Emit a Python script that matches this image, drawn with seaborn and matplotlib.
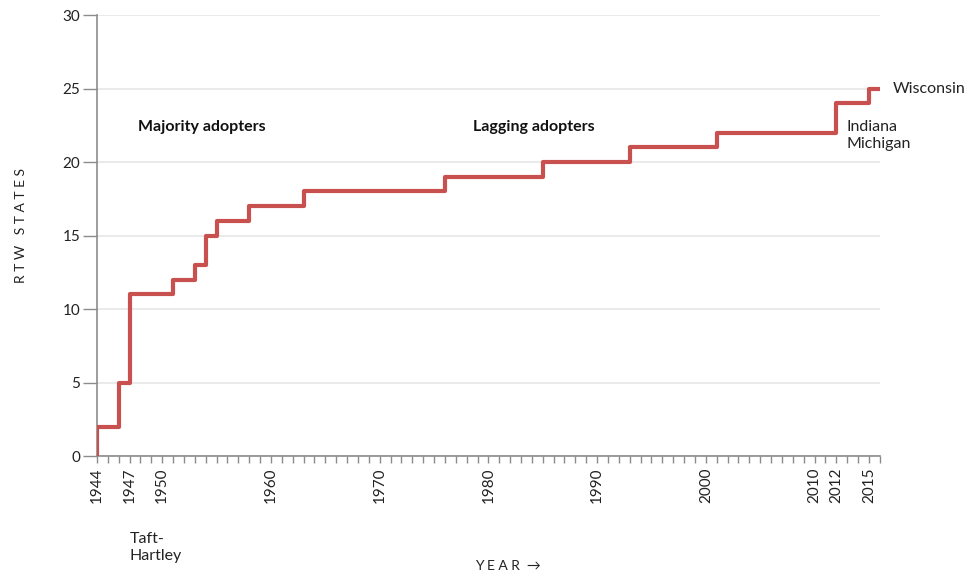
import numpy as np
import pandas as pd
import matplotlib
matplotlib.use("Agg")
import matplotlib.pyplot as plt
from matplotlib.ticker import MultipleLocator
import seaborn as sns

# Cumulative right-to-work states by year of adoption
years = [1944, 1944, 1946, 1947, 1951, 1953, 1954, 1955, 1958, 1963,
         1976, 1985, 1993, 2001, 2012, 2015, 2016]
rtw_states = [0, 2, 5, 11, 12, 13, 15, 16, 17, 18,
              19, 20, 21, 22, 24, 25, 25]
year_ticks = [1944, 1947, 1950, 1960, 1970, 1980, 1990, 2000, 2010, 2012, 2015]
y_ticks = [0, 5, 10, 15, 20, 25, 30]

line_color = "#c8504e"
axis_color = "#8c8c8c"
grid_color = "#e6e6e6"

sns.set_theme(style="white")
plt.rcParams["font.family"] = ["Lato", "DejaVu Sans"]

df = pd.DataFrame({"year": years, "states": rtw_states})

fig = plt.figure(figsize=(9.7, 5.76), dpi=100)
ax = fig.add_axes([0.1, 0.2083, 0.807, 0.7656])

sns.lineplot(data=df, x="year", y="states", ax=ax, sort=False, estimator=None,
             drawstyle="steps-post", color=line_color, linewidth=3, zorder=3)

ax.set_xlim(1944, 2016)
ax.set_ylim(0, 30)
ax.set_yticks(y_ticks)
ax.set_xticks(year_ticks)
ax.set_xticklabels([str(y) for y in year_ticks], rotation=90)
ax.xaxis.set_minor_locator(MultipleLocator(1))

ax.yaxis.grid(True, color=grid_color, linewidth=1.2)
ax.set_axisbelow(True)
for side in ["top", "right"]:
    ax.spines[side].set_visible(False)
for side in ["left", "bottom"]:
    ax.spines[side].set_color(axis_color)
    ax.spines[side].set_linewidth(1.2)

ax.tick_params(axis="y", which="major", length=10, width=1, color=axis_color,
               labelsize=11, labelcolor="#222222", pad=2, left=True)
ax.tick_params(axis="x", which="major", length=5, width=1, color=axis_color,
               labelsize=11, labelcolor="#222222", pad=3, bottom=True)
ax.tick_params(axis="x", which="minor", length=5, width=1, color=axis_color,
               bottom=True)

ax.set_xlabel("")
ax.set_ylabel("")
fig.text(0.022, 0.609, "R T W   S T A T E S", rotation=90, ha="center", va="center",
         fontsize=10, color="#222222")
fig.text(0.524, 0.017, "Y E A R  →", ha="center", va="center",
         fontsize=10, color="#222222")

ax.text(1947.8, 22.4, "Majority adopters", fontsize=11.5, fontweight="bold",
        ha="left", va="center", color="#111111")
ax.text(1978.6, 22.4, "Lagging adopters", fontsize=11.5, fontweight="bold",
        ha="left", va="center", color="#111111")
ax.text(2017.2, 25, "Wisconsin", fontsize=11.5, ha="left", va="center",
        color="#222222", clip_on=False)
ax.text(2012.9, 21.8, "Indiana\nMichigan", fontsize=11.5, ha="left", va="center",
        color="#222222", linespacing=1.25)
ax.text(1947.0, -5.2, "Taft-\nHartley", fontsize=11.5, ha="left", va="top",
        color="#222222", linespacing=1.25, clip_on=False)

fig.savefig("out.png", dpi=100)
